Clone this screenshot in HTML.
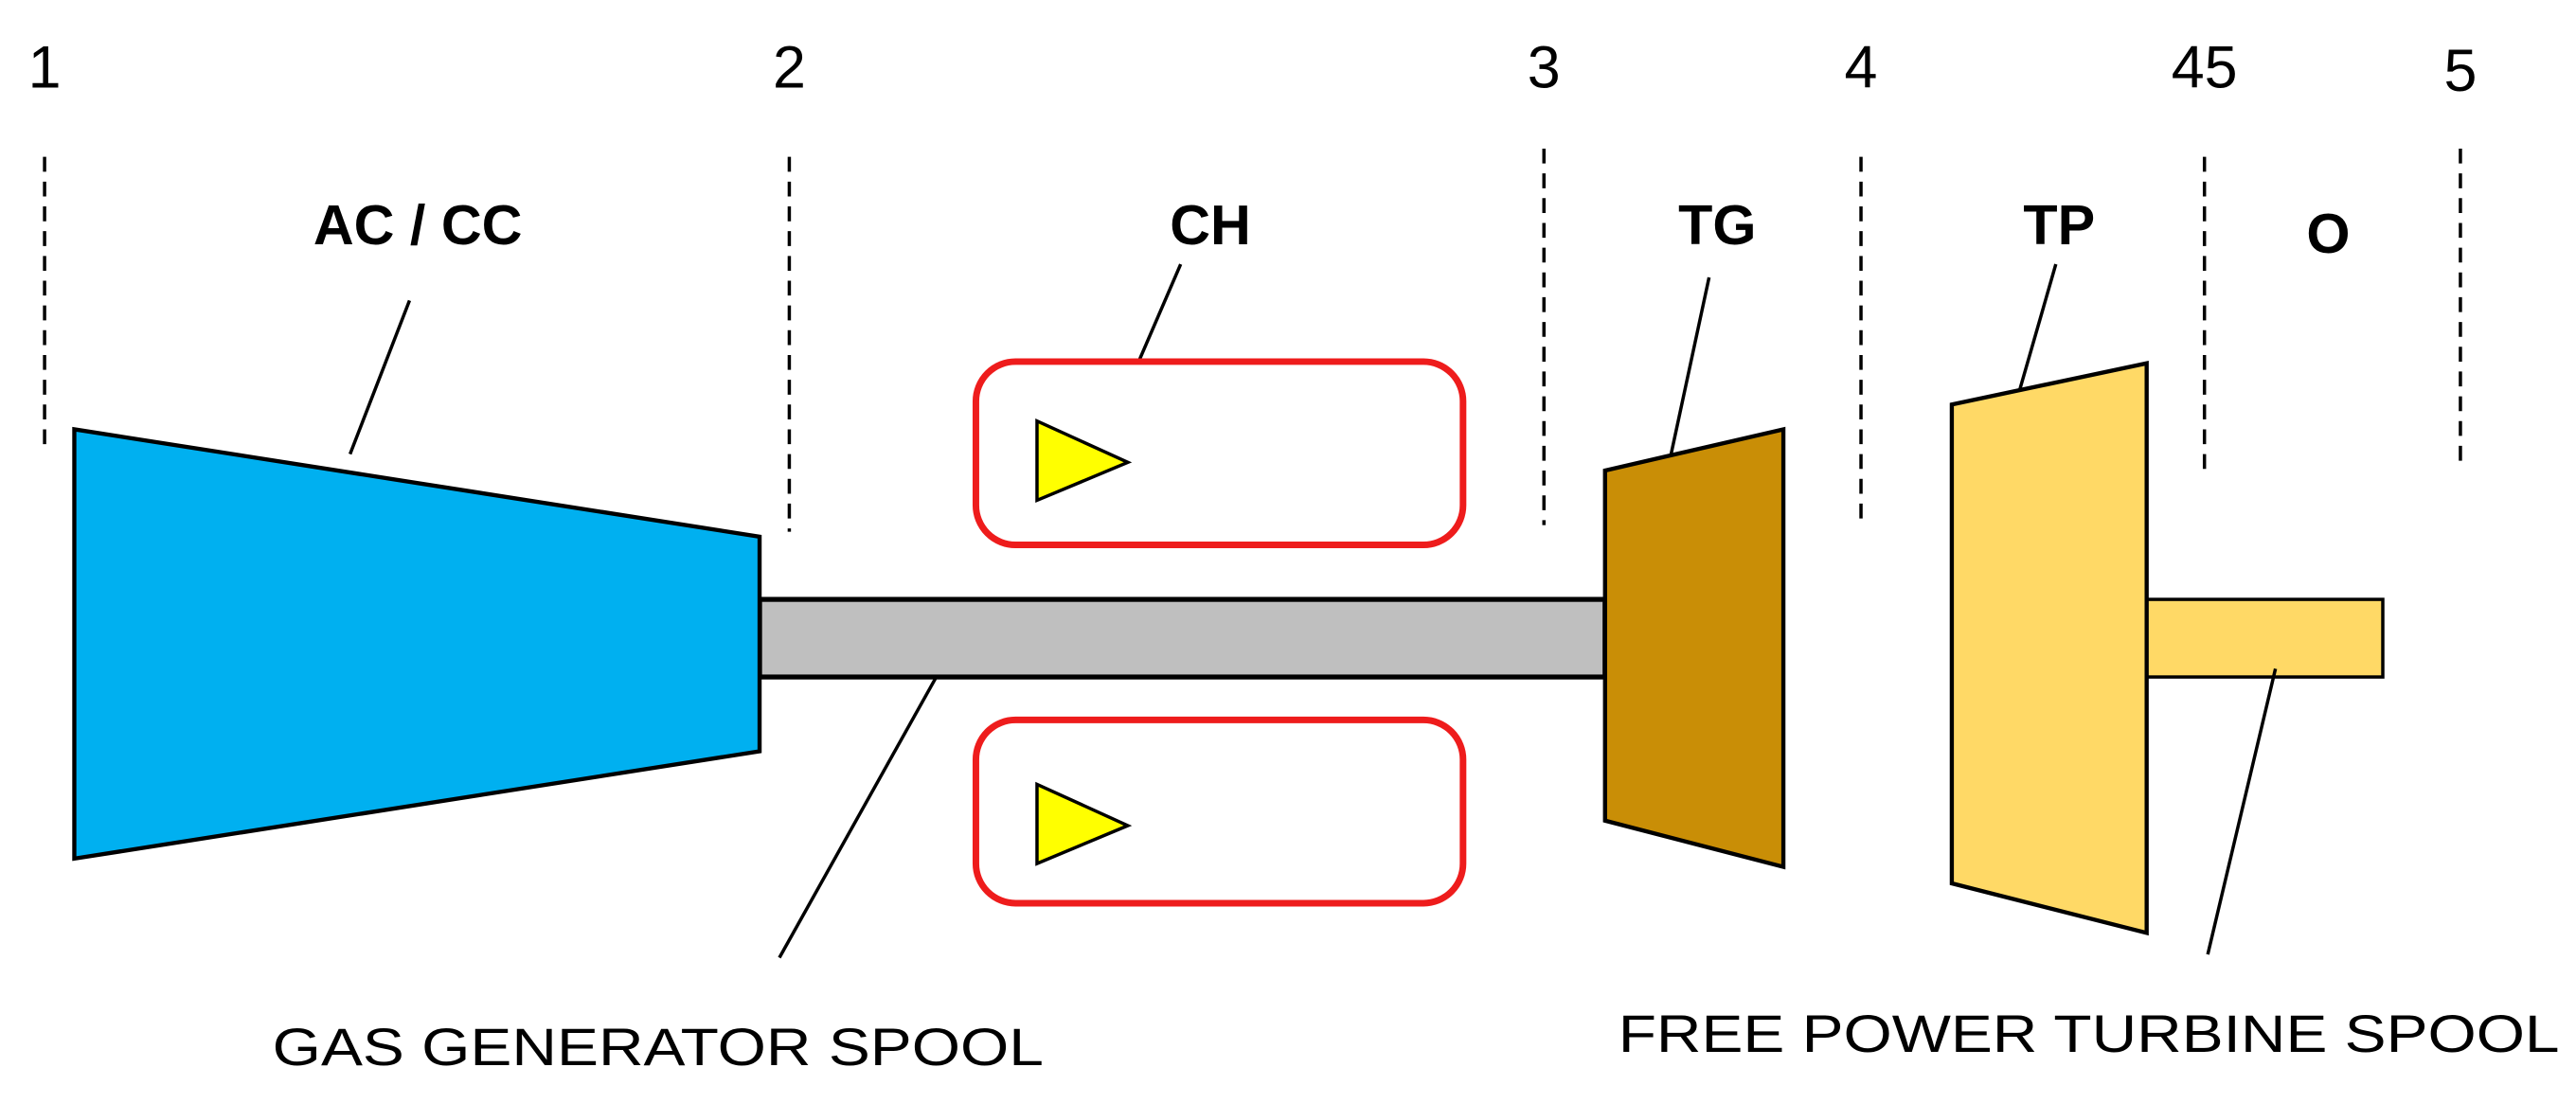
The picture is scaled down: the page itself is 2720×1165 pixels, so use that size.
<!DOCTYPE html>
<html><head><style>html,body{margin:0;padding:0;background:#fff}svg{display:block}</style></head><body>
<svg width="2720" height="1165" viewBox="0 0 1560 668" preserveAspectRatio="none" xmlns="http://www.w3.org/2000/svg" font-family="Liberation Sans, sans-serif">
<g font-size="36" fill="#000">
<text x="27" y="53" text-anchor="middle">1</text>
<text x="478" y="53" text-anchor="middle">2</text>
<text x="935" y="53" text-anchor="middle">3</text>
<text x="1127" y="53" text-anchor="middle">4</text>
<text x="1335" y="53" text-anchor="middle">45</text>
<text x="1490" y="55" text-anchor="middle">5</text>
</g>
<g stroke="#000" stroke-width="2" stroke-dasharray="9,6">
<line x1="27" y1="95" x2="27" y2="272"/>
<line x1="478" y1="95" x2="478" y2="322"/>
<line x1="935" y1="90" x2="935" y2="318"/>
<line x1="1127" y1="95" x2="1127" y2="315"/>
<line x1="1335" y1="95" x2="1335" y2="290"/>
<line x1="1490" y1="90" x2="1490" y2="285"/>
</g>
<g font-size="34" font-weight="bold" text-anchor="middle">
<text x="253" y="148">AC / CC</text>
<text x="733" y="148">CH</text>
<text x="1040" y="148">TG</text>
<text x="1247" y="148">TP</text>
<text x="1410" y="153">O</text>
</g>
<g stroke="#000" stroke-width="2">
<line x1="248" y1="182" x2="212" y2="275"/>
<line x1="715" y1="160" x2="690" y2="218"/>
<line x1="1035" y1="168" x2="1012" y2="275"/>
<line x1="1245" y1="160" x2="1222" y2="240"/>
</g>
<rect x="460" y="363" width="512" height="47" fill="#bfbfbf" stroke="#000" stroke-width="3"/>
<polygon points="45,260 460,325 460,455 45,520" fill="#00b0f0" stroke="#000" stroke-width="2.5"/>
<polygon points="972,285 1080,260 1080,525 972,497" fill="#c98e06" stroke="#000" stroke-width="2.5"/>
<rect x="1300" y="363" width="143" height="47" fill="#ffd966" stroke="#000" stroke-width="2"/>
<polygon points="1182,245 1300,220 1300,565 1182,535" fill="#ffd966" stroke="#000" stroke-width="2.5"/>
<rect x="591" y="219" width="295" height="111" rx="24" fill="#fff" stroke="#ee1c1c" stroke-width="4"/>
<rect x="591" y="436" width="295" height="111" rx="24" fill="#fff" stroke="#ee1c1c" stroke-width="4"/>
<polygon points="628,255 683,280 628,303" fill="#ffff00" stroke="#000" stroke-width="2"/>
<polygon points="628,475 683,500 628,523" fill="#ffff00" stroke="#000" stroke-width="2"/>
<g stroke="#000" stroke-width="2">
<line x1="567" y1="410" x2="472" y2="580"/>
<line x1="1378" y1="405" x2="1337" y2="578"/>
</g>
<g font-size="32">
<text x="165" y="645" textLength="467" lengthAdjust="spacingAndGlyphs">GAS GENERATOR SPOOL</text>
<text x="980" y="637" textLength="570" lengthAdjust="spacingAndGlyphs">FREE POWER TURBINE SPOOL</text>
</g>
</svg>
</body></html>
